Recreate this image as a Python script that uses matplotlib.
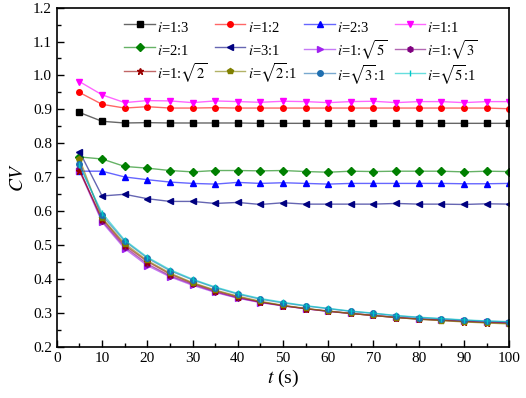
import matplotlib.pyplot as plt
from matplotlib.colors import to_rgba
from matplotlib.ticker import MultipleLocator

plt.rcParams['font.family'] = ['Liberation Serif', 'DejaVu Serif']
plt.rcParams['mathtext.fontset'] = 'stix'

t = [5, 10, 15, 20, 25, 30, 35, 40, 45, 50, 55, 60, 65, 70, 75, 80, 85, 90, 95, 100]

cv_1_3 = [0.891, 0.865, 0.860, 0.861, 0.860, 0.860, 0.860, 0.860, 0.859, 0.859, 0.859, 0.859,
          0.859, 0.859, 0.859, 0.859, 0.859, 0.859, 0.859, 0.859]
cv_1_2 = [0.950, 0.915, 0.904, 0.908, 0.904, 0.904, 0.905, 0.904, 0.904, 0.904, 0.904, 0.904,
          0.904, 0.904, 0.904, 0.904, 0.904, 0.904, 0.904, 0.902]
cv_2_3 = [0.718, 0.718, 0.701, 0.693, 0.686, 0.682, 0.680, 0.685, 0.682, 0.684, 0.682, 0.680,
          0.682, 0.682, 0.682, 0.682, 0.682, 0.681, 0.681, 0.682]
cv_1_1 = [0.982, 0.943, 0.920, 0.926, 0.925, 0.920, 0.925, 0.923, 0.921, 0.924, 0.923, 0.920,
          0.923, 0.924, 0.920, 0.923, 0.923, 0.920, 0.923, 0.923]
cv_2_1 = [0.760, 0.754, 0.732, 0.727, 0.720, 0.716, 0.720, 0.720, 0.719, 0.720, 0.717, 0.715,
          0.718, 0.717, 0.718, 0.718, 0.718, 0.716, 0.718, 0.717]
cv_3_1 = [0.776, 0.645, 0.650, 0.637, 0.629, 0.629, 0.623, 0.626, 0.620, 0.625, 0.621, 0.621,
          0.621, 0.621, 0.623, 0.621, 0.621, 0.620, 0.622, 0.621]
cv_1_r5 = [0.720, 0.568, 0.490, 0.440, 0.407, 0.382, 0.361, 0.344, 0.331, 0.321, 0.313, 0.305,
           0.299, 0.293, 0.288, 0.283, 0.280, 0.277, 0.274, 0.272]
cv_1_r3 = [0.725, 0.572, 0.495, 0.445, 0.410, 0.385, 0.363, 0.345, 0.332, 0.322, 0.313, 0.305,
           0.299, 0.293, 0.287, 0.283, 0.279, 0.276, 0.273, 0.271]
cv_1_r2 = [0.720, 0.578, 0.500, 0.452, 0.415, 0.388, 0.366, 0.348, 0.333, 0.322, 0.313, 0.306,
           0.299, 0.293, 0.287, 0.282, 0.279, 0.275, 0.272, 0.270]
cv_r2_1 = [0.755, 0.580, 0.505, 0.455, 0.418, 0.390, 0.368, 0.350, 0.335, 0.323, 0.314, 0.306,
           0.299, 0.293, 0.287, 0.282, 0.278, 0.274, 0.271, 0.268]
cv_r3_1 = [0.740, 0.588, 0.512, 0.462, 0.425, 0.398, 0.375, 0.356, 0.341, 0.330, 0.321, 0.313,
           0.305, 0.299, 0.292, 0.287, 0.283, 0.279, 0.276, 0.274]
cv_r5_1 = [0.735, 0.595, 0.515, 0.465, 0.428, 0.400, 0.377, 0.358, 0.343, 0.332, 0.322, 0.314,
           0.306, 0.300, 0.293, 0.288, 0.284, 0.280, 0.277, 0.275]

labels = [r'$i$=1:3', r'$i$=1:2', r'$i$=2:3', r'$i$=1:1',
          r'$i$=2:1', r'$i$=3:1', r'$i$=1:$\sqrt{5}$', r'$i$=1:$\sqrt{3}$',
          r'$i$=1:$\sqrt{2}$', r'$i$=$\sqrt{2}$:1', r'$i$=$\sqrt{3}$:1', r'$i$=$\sqrt{5}$:1']
series = [cv_1_3, cv_1_2, cv_2_3, cv_1_1, cv_2_1, cv_3_1,
          cv_1_r5, cv_1_r3, cv_1_r2, cv_r2_1, cv_r3_1, cv_r5_1]
colors = ['#000000', '#ff0000', '#0000ff', '#ff00ff', '#008000', '#000080',
          '#a020f0', '#800080', '#990000', '#808000', '#1f6fb0', '#00c8c8']
markers = ['s', 'o', '^', 'v', 'D', '<', '>', 'h', '*', 'p', 'o', '|']

fig = plt.figure(figsize=(5.26, 3.98), dpi=100)
ax = fig.add_axes([0.108, 0.128, 0.860, 0.853])

handles = []
for y, lab, c, m in zip(series, labels, colors, markers):
    # lighter connecting line, solid marker (Origin style)
    h, = ax.plot(t, y, color=to_rgba(c, 0.6), lw=1.0, marker=m,
                 ms=5 if m == '*' else 4, mfc=c, mec=c, label=lab)
    handles.append(h)

ax.set_xlim(0, 100)
ax.set_ylim(0.2, 1.2)
ax.xaxis.set_major_locator(MultipleLocator(10))
ax.xaxis.set_minor_locator(MultipleLocator(5))
ax.yaxis.set_major_locator(MultipleLocator(0.1))
ax.yaxis.set_minor_locator(MultipleLocator(0.05))
ax.yaxis.set_major_formatter(plt.FuncFormatter(lambda v, p: f'{v:.1f}'))
ax.tick_params(which='both', direction='in', top=False, right=False, labelsize=11)
ax.tick_params(which='major', length=5, width=1)
ax.tick_params(which='minor', length=3, width=1)
for s in ax.spines.values():
    s.set_linewidth(1.2)

ax.set_xlabel(r'$t$ (s)', fontsize=14, labelpad=2)
ax.set_ylabel(r'$CV$', fontsize=14, labelpad=4)

# legend filled row by row, 4 columns; tall handle boxes keep rows even
ncol, nrow = 4, 3
order = [r * ncol + c for c in range(ncol) for r in range(nrow)]
ax.legend([handles[k] for k in order], [labels[k] for k in order],
          loc='upper left', bbox_to_anchor=(0.13, 1.0), ncol=ncol, frameon=False,
          fontsize=10.5, handlelength=2.1, handleheight=2.0, handletextpad=0.15,
          columnspacing=0.5, labelspacing=0.0, borderaxespad=0.2)

fig.savefig('out.png', dpi=100)
